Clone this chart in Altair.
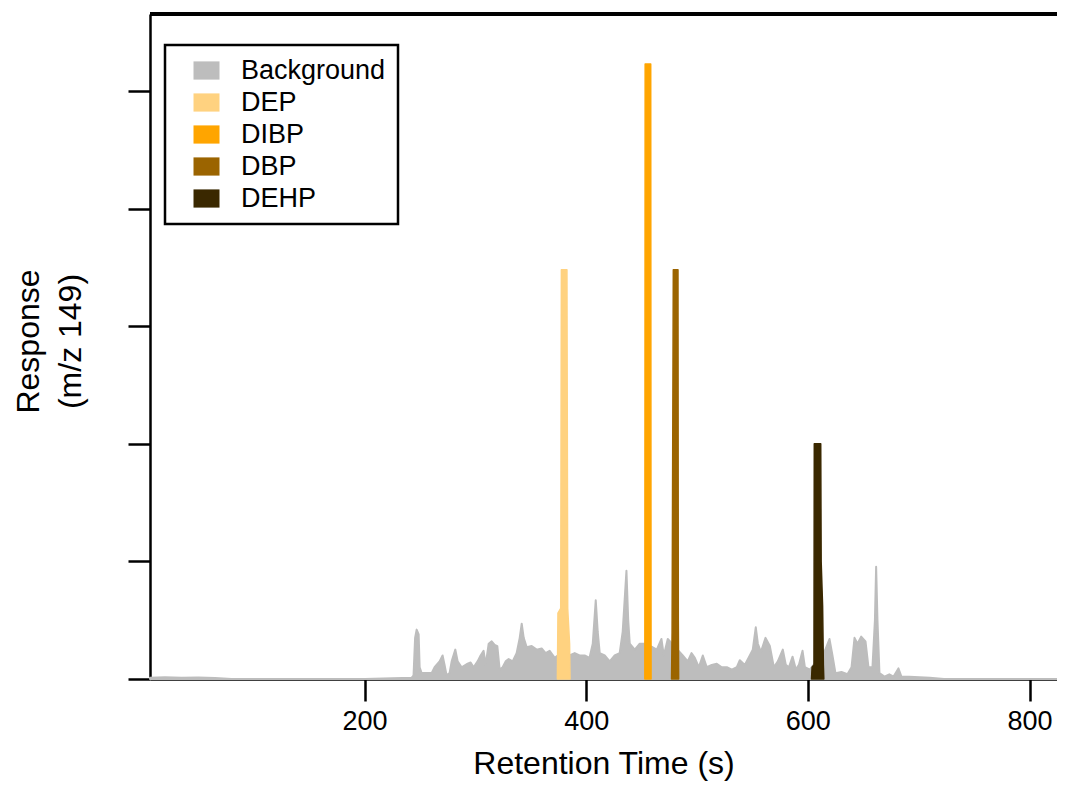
import altair as alt
import pandas as pd

# ---- data ----
series_names = ["Background", "DEP", "DIBP", "DBP", "DEHP"]
series_colors = ["#BDBDBD", "#FFD280", "#FFA500", "#9B6400", "#3A2800"]

bg_t = [6.4, 20, 35, 50, 65, 80, 100, 150, 200, 242.4, 244.2, 245.6, 247.0, 248.8, 249.7,
        251.5, 260.5, 263.2, 267.7, 270.4, 272.2, 274.0, 276.7, 278.6, 281.9, 284.0,
        287.6, 293.0, 295.7, 298.4, 302.0, 304.7, 307.4, 309.3, 312.0, 314.7, 317.4,
        319.8, 321.9, 324.6, 327.3, 330.0, 333.6, 337.2, 340.0, 341.8, 343.6, 346.3,
        350.8, 355.3, 359.8, 363.4, 367.0, 371.6, 374.3, 385.0, 389.6, 394.0, 398.6,
        403.0, 405.9, 408.6, 410.4, 412.2, 416.7, 421.2, 425.7, 430.2, 432.9, 436.3,
        437.9, 439.3, 443.8, 448.3, 452.8, 460.0, 463.7, 467.9, 470.0, 473.6, 487.1,
        491.6, 495.0, 498.0, 501.6, 505.2, 508.8, 513.3, 517.8, 522.3, 526.9, 531.4,
        535.9, 538.6, 543.1, 547.6, 550.3, 553.0, 554.9, 557.6, 561.8, 565.7, 569.3,
        572.9, 577.4, 580.1, 582.9, 586.2, 589.2, 591.9, 595.2, 597.3, 601.8, 615.8,
        619.5, 622.2, 624.9, 630.3, 635.7, 639.4, 642.1, 644.8, 648.1, 652.0, 654.7,
        658.3, 660.5, 661.6, 662.8, 664.6, 669.1, 673.5, 677.2, 681.7, 684.4, 691.6,
        710.0, 722.8, 760.0, 824.8]
bg_r = [0.01, 0.015, 0.01, 0.012, 0.008, 0.0, 0.0, 0.0, 0.0, 0.01, 0.03, 0.35, 0.42, 0.38, 0.1,
        0.05, 0.05, 0.1, 0.15, 0.2, 0.12, 0.03, 0.05, 0.15, 0.25, 0.15,
        0.1, 0.13, 0.14, 0.1, 0.15, 0.2, 0.24, 0.12, 0.3, 0.32, 0.29,
        0.28, 0.08, 0.1, 0.15, 0.17, 0.15, 0.22, 0.35, 0.47, 0.35, 0.27,
        0.28, 0.25, 0.26, 0.22, 0.24, 0.18, 0.2, 0.2, 0.22, 0.2, 0.2,
        0.18, 0.3, 0.67, 0.4, 0.22, 0.2, 0.15, 0.2, 0.22, 0.4, 0.92,
        0.5, 0.3, 0.25, 0.3, 0.3, 0.27, 0.25, 0.34, 0.2, 0.34, 0.2,
        0.15, 0.22, 0.18, 0.1, 0.2, 0.1, 0.12, 0.13, 0.1, 0.1, 0.08,
        0.1, 0.16, 0.12, 0.2, 0.25, 0.44, 0.3, 0.23, 0.35, 0.28, 0.1,
        0.15, 0.25, 0.12, 0.1, 0.19, 0.08, 0.12, 0.24, 0.1, 0.08, 0.25,
        0.34, 0.2, 0.05, 0.06, 0.04, 0.1, 0.35, 0.3, 0.36, 0.32, 0.1,
        0.1, 0.5, 0.955, 0.5, 0.05, 0.02, 0.04, 0.02, 0.09, 0.02, 0.02,
        0.01, 0.0, 0.0, 0.0]

dep_t = [374.0, 374.5, 377.0, 377.6, 382.6, 383.3, 385.0, 385.4]
dep_r = [0.0, 0.56, 0.6, 3.48, 3.48, 0.6, 0.3, 0.0]

dibp_t = [452.9, 453.2, 458.2, 458.5]
dibp_r = [0.0, 5.23, 5.23, 0.0]

dbp_t = [477.0, 477.5, 478.6, 482.8, 483.1, 483.4]
dbp_r = [0.0, 0.4, 3.48, 3.48, 0.5, 0.0]

dehp_t = [603.3, 603.8, 605.5, 605.8, 611.6, 612.0, 613.3, 614.0, 614.4]
dehp_r = [0.0, 0.1, 0.12, 2.0, 2.0, 1.0, 0.62, 0.12, 0.0]

x_ticks = [200, 400, 600, 800]
y_ticks = [0, 1, 2, 3, 4, 5]
x_domain = [6.4, 824.8]
y_domain = [0, 5.655]

# ---- tables ----
bg_df = pd.DataFrame({"t": bg_t, "r": bg_r, "series": "Background"})
peaks_df = pd.concat([
    pd.DataFrame({"t": dep_t, "r": dep_r, "series": "DEP"}),
    pd.DataFrame({"t": dibp_t, "r": dibp_r, "series": "DIBP"}),
    pd.DataFrame({"t": dbp_t, "r": dbp_r, "series": "DBP"}),
    pd.DataFrame({"t": dehp_t, "r": dehp_r, "series": "DEHP"}),
], ignore_index=True)

FONT = "Liberation Sans"

x_enc = alt.X("t:Q", scale=alt.Scale(domain=x_domain, nice=False, zero=False),
              axis=alt.Axis(values=x_ticks, title="Retention Time (s)", grid=False,
                            domainColor="black", domainWidth=2.5,
                            tickColor="black", tickWidth=2.5, tickSize=22,
                            labelFontSize=27, labelColor="black", labelPadding=7,
                            labelFont=FONT, titleFont=FONT, titleFontSize=32,
                            titleFontWeight="normal", titleColor="black",
                            titlePadding=14))
y_enc = alt.Y("r:Q", scale=alt.Scale(domain=y_domain, nice=False),
              axis=alt.Axis(values=y_ticks, labels=False, grid=False,
                            title=["Response", "(m/z 149)"],
                            domainColor="black", domainWidth=2.5,
                            tickColor="black", tickWidth=2.5, tickSize=22,
                            titleFont=FONT, titleFontSize=32, titleFontWeight="normal",
                            titleColor="black", titleLineHeight=42, titlePadding=39,
                            titleY=327))
color_scale = alt.Scale(domain=series_names, range=series_colors)
color_enc = alt.Color("series:N", scale=color_scale,
                      legend=alt.Legend(title=None, orient="none", legendX=15, legendY=31,
                                        padding=12, symbolOffset=16,
                                        strokeColor="black", fillColor="white",
                                        symbolType="M-1,-0.7H1V0.7H-1Z", symbolSize=676,
                                        symbolStrokeWidth=0, symbolOpacity=1,
                                        labelFontSize=27, labelFont=FONT, labelColor="black",
                                        labelOffset=21, rowPadding=4))
stroke_enc = alt.Stroke("series:N", scale=color_scale, legend=None)

bg = alt.Chart(bg_df).mark_area(opacity=1, interpolate="linear", strokeWidth=2,
                                strokeJoin="round").encode(
    x=x_enc, y=y_enc, color=color_enc, stroke=stroke_enc)

peaks = alt.Chart(peaks_df).mark_area(opacity=1, interpolate="linear", strokeWidth=1.5,
                                      strokeJoin="round").encode(
    x="t:Q", y=alt.Y("r:Q", stack=None), color="series:N", stroke="series:N")

top_border = alt.Chart(bg_df).mark_rule(color="black", strokeWidth=2.5).encode(
    x=alt.value(0), x2=alt.value(907), y=alt.value(0))

chart = alt.layer(bg, peaks, top_border).properties(
    width=907, height=665,
    autosize=alt.AutoSizeParams(type="none"),
    padding={"left": 142, "top": 6, "right": 0, "bottom": 103},
).configure_view(strokeWidth=0).configure_legend(strokeWidth=2.5)

chart.save("out.html", embed_options={"renderer": "svg", "actions": False})
